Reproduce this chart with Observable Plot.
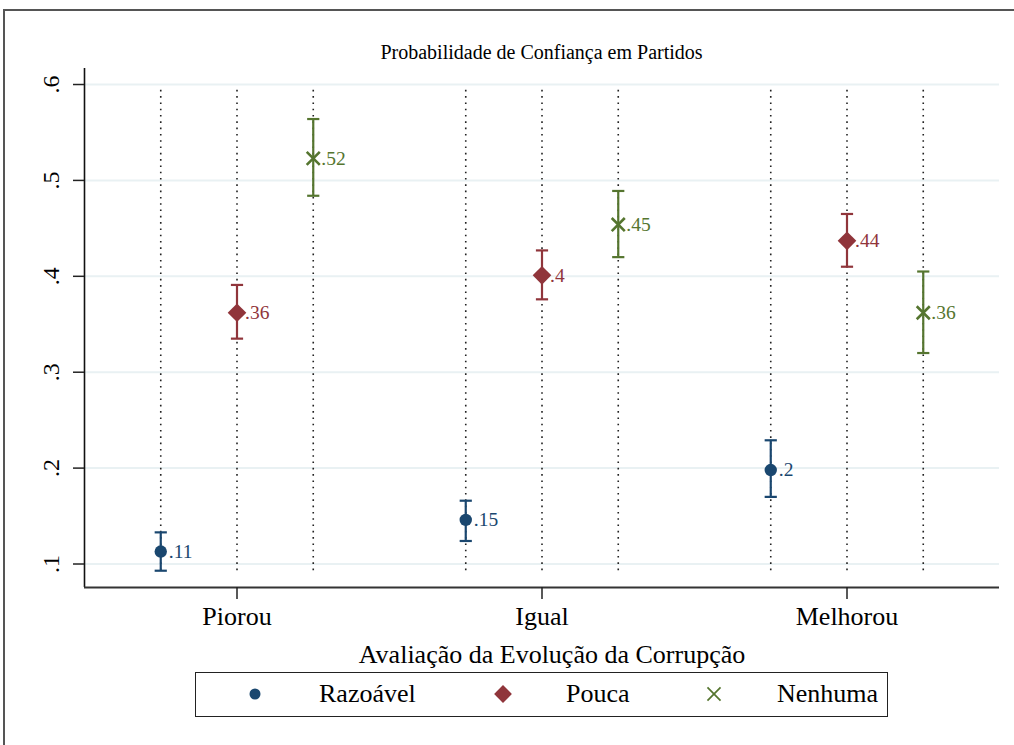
<!DOCTYPE html>
<html>
<head>
<meta charset="utf-8">
<script src="https://cdn.jsdelivr.net/npm/d3@7"></script>
<script src="https://cdn.jsdelivr.net/npm/@observablehq/plot@0.6"></script>
<style>
  body { margin: 0; background: #fff; }
  #wrap { position: relative; width: 1014px; height: 745px; overflow: hidden; background: #fff;
          font-family: "Liberation Serif", "Times New Roman", serif; color: #000; }
  #border { position: absolute; left: 3px; top: 9px; width: 1100px; height: 800px;
            border: 2px solid #555; box-sizing: border-box; }
  #chart { position: absolute; left: 0; top: 0; }
  #title { position: absolute; left: 84px; width: 915px; top: 40px; line-height: 24px;
           font-size: 20px; text-align: center; }
  #xtitle { position: absolute; left: 0; width: 1104px; top: 640px; line-height: 30px;
            font-size: 26px; text-align: center; }
  #legend { position: absolute; left: 195px; top: 672px; width: 693px; height: 45px;
            border: 1.5px solid #222; box-sizing: border-box; }
  .lg-sym { position: absolute; top: 0; }
  .lg-txt { position: absolute; top: 6px; line-height: 30px; font-size: 26px; white-space: nowrap; }
</style>
</head>
<body>
<div id="wrap">
  <div id="border"></div>
  <div id="chart"></div>
  <div id="title"></div>
  <div id="xtitle"></div>
  <div id="legend"></div>
</div>
<script>
// ---- data ----
const titleText = "Probabilidade de Confiança em Partidos";
const xTitleText = "Avaliação da Evolução da Corrupção";
const categories = ["Piorou", "Igual", "Melhorou"];
const series = ["Razoável", "Pouca", "Nenhuma"];
const colors = ["#1a476f", "#90353b", "#55752f"];
const symbols = ["circle", "diamond2", "times"];

const razoavel   = [0.113, 0.146, 0.198];
const razoavelLo = [0.093, 0.124, 0.170];
const razoavelHi = [0.133, 0.166, 0.229];

const pouca   = [0.362, 0.401, 0.437];
const poucaLo = [0.335, 0.376, 0.410];
const poucaHi = [0.391, 0.427, 0.465];

const nenhuma   = [0.523, 0.454, 0.362];
const nenhumaLo = [0.484, 0.420, 0.320];
const nenhumaHi = [0.564, 0.489, 0.405];

const yTicks = [0.1, 0.2, 0.3, 0.4, 0.5, 0.6];

// ---- layout ----
const seriesOffset = [-0.25, 0, 0.25];
const xDomain = [-0.5, 2.5];
const yDomain = [0.0755, 0.6167];
const capHalf = 0.02;
const dotTop = yDomain[1] - (yDomain[1] - yDomain[0]) * 0.042;
const dotBottom = yDomain[0] + (yDomain[1] - yDomain[0]) * 0.032;

const fmt = v => String(+v.toFixed(2)).replace(/^0\./, ".");

const vals = [razoavel, pouca, nenhuma];
const los = [razoavelLo, poucaLo, nenhumaLo];
const his = [razoavelHi, poucaHi, nenhumaHi];
const rows = [];
series.forEach((s, j) => {
  categories.forEach((c, i) => {
    rows.push({cat: c, series: s, xp: i + seriesOffset[j], v: vals[j][i], lo: los[j][i], hi: his[j][i], label: fmt(vals[j][i])});
  });
});
const bySeries = s => rows.filter(d => d.series === s);

const plot = Plot.plot({
  width: 1014,
  height: 640,
  marginLeft: 84,
  marginRight: 15,
  marginTop: 68,
  marginBottom: 53,
  x: {domain: xDomain},
  y: {domain: yDomain},
  color: {domain: series, range: colors},
  style: {fontFamily: "Liberation Serif, Times New Roman, serif", background: "transparent", color: "#000"},
  marks: [
    Plot.gridY(yTicks, {stroke: "#e9f1f3", strokeOpacity: 1, strokeWidth: 2}),
    Plot.ruleX(rows, {x: "xp", y1: dotTop, y2: dotBottom, stroke: "#222", strokeWidth: 1.6, strokeDasharray: "1.6 4.7"}),
    Plot.ruleX(rows, {x: "xp", y1: "lo", y2: "hi", stroke: "series", strokeWidth: 2.2}),
    Plot.link(rows, {x1: d => d.xp - capHalf, x2: d => d.xp + capHalf, y1: "lo", y2: "lo", stroke: "series", strokeWidth: 2.2}),
    Plot.link(rows, {x1: d => d.xp - capHalf, x2: d => d.xp + capHalf, y1: "hi", y2: "hi", stroke: "series", strokeWidth: 2.2}),
    Plot.dot(bySeries(series[0]), {x: "xp", y: "v", symbol: symbols[0], r: 6.2, fill: "series", stroke: "none"}),
    Plot.dot(bySeries(series[1]), {x: "xp", y: "v", symbol: symbols[1], r: 8.4, fill: "series", stroke: "none"}),
    Plot.dot(bySeries(series[2]), {x: "xp", y: "v", symbol: symbols[2], r: 6, stroke: "series", strokeWidth: 2.6, fill: "none"}),
    Plot.text(rows, {x: "xp", y: "v", text: "label", dx: 8, textAnchor: "start", fill: "series", fontSize: 19.5}),
    Plot.ruleX([xDomain[0]], {stroke: "#111", strokeWidth: 1.6}),
    Plot.ruleY([yDomain[0]], {stroke: "#333", strokeWidth: 2}),
    Plot.axisY(yTicks, {tickSize: 11, tickFormat: () => "", stroke: "#222", strokeWidth: 1.5}),
    Plot.text(yTicks, {y: d => d, text: fmt, frameAnchor: "left", dx: -33, rotate: -90, fontSize: 24, textAnchor: "middle", lineAnchor: "middle", fill: "#000"}),
    Plot.axisX([0, 1, 2], {tickSize: 12, tickPadding: 7, tickFormat: i => categories[i], fontSize: 26, stroke: "#222", strokeWidth: 1.5, label: null, fill: "#000"})
  ]
});
document.getElementById("chart").appendChild(plot);
document.getElementById("title").textContent = titleText;
document.getElementById("xtitle").textContent = xTitleText;

// ---- legend ----
const legend = document.getElementById("legend");
const symX = [59, 307, 518];
const txtX = [123, 370, 581];
const ns = "http://www.w3.org/2000/svg";
series.forEach((s, j) => {
  const svg = document.createElementNS(ns, "svg");
  svg.setAttribute("width", 30); svg.setAttribute("height", 42);
  svg.setAttribute("class", "lg-sym");
  svg.style.left = (symX[j] - 15) + "px";
  const sizes = [Math.PI * 5.5 * 5.5, Math.PI * 8 * 8, Math.PI * 6 * 6];
  const sym = d3.symbol(j === 0 ? d3.symbolCircle : j === 1 ? d3.symbolDiamond2 : d3.symbolTimes, sizes[j]);
  const p = document.createElementNS(ns, "path");
  p.setAttribute("d", sym());
  p.setAttribute("transform", "translate(15,21)");
  if (j === 2) { p.setAttribute("fill", "none"); p.setAttribute("stroke", colors[j]); p.setAttribute("stroke-width", 1.7); }
  else { p.setAttribute("fill", colors[j]); }
  svg.appendChild(p);
  legend.appendChild(svg);
  const t = document.createElement("div");
  t.className = "lg-txt";
  t.style.left = txtX[j] + "px";
  t.textContent = s;
  legend.appendChild(t);
});
</script>
</body>
</html>
